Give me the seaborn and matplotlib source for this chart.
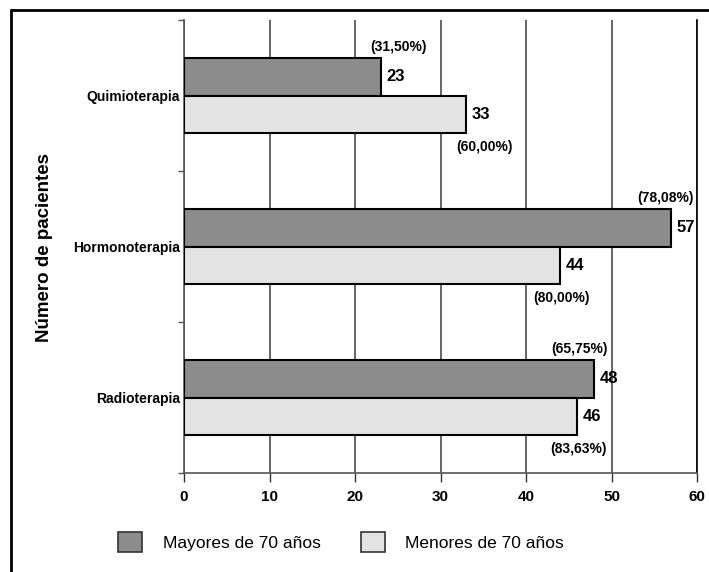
import matplotlib
matplotlib.use("Agg")
import matplotlib.pyplot as plt
import seaborn as sns
import pandas as pd
from matplotlib.lines import Line2D
from matplotlib.ticker import FixedLocator

# Datos
tratamientos = ["Quimioterapia", "Hormonoterapia", "Radioterapia"]
grupos = ["Mayores de 70 años", "Menores de 70 años"]
mayores = [23, 57, 48]
menores = [33, 44, 46]
pct_mayores = ["(31,50%)", "(78,08%)", "(65,75%)"]
pct_menores = ["(60,00%)", "(80,00%)", "(83,63%)"]
x_ticks = [0, 10, 20, 30, 40, 50, 60]

df = pd.DataFrame({
    "tratamiento": tratamientos * 2,
    "grupo": [grupos[0]] * len(tratamientos) + [grupos[1]] * len(tratamientos),
    "pacientes": mayores + menores,
})

sns.set_theme(style="white")
plt.rcParams["font.family"] = ["Liberation Sans", "DejaVu Sans"]
plt.rcParams["text.color"] = "black"
plt.rcParams["xtick.labelcolor"] = "black"
plt.rcParams["ytick.labelcolor"] = "black"

W, H = 709, 572
fig = plt.figure(figsize=(W / 100, H / 100), dpi=100)
ax = fig.add_axes([184 / W, 1 - 473 / H, (697 - 184) / W, (473 - 20) / H])

sns.barplot(
    data=df, y="tratamiento", x="pacientes", hue="grupo",
    order=tratamientos, hue_order=grupos,
    palette=["#8c8c8c", "#e3e3e3"], saturation=1,
    width=0.5, edgecolor="black", linewidth=1.5,
    orient="h", ax=ax, legend=True, zorder=3,
)

ax.set_xlim(0, 60)
ax.set_ylim(len(tratamientos) - 0.5, -0.5)
ax.set_xlabel("")
ax.set_ylabel("")

# Rejilla vertical y ejes
ax.set_axisbelow(True)
ax.xaxis.grid(True, color="#4a4a4a", linewidth=1.2)
ax.yaxis.grid(False)
ax.spines["top"].set_visible(False)
ax.spines["right"].set_visible(True)
ax.spines["right"].set_color("black")
ax.spines["right"].set_linewidth(1.2)
ax.spines["left"].set_color("#555555")
ax.spines["left"].set_linewidth(1.2)
ax.spines["bottom"].set_color("#555555")
ax.spines["bottom"].set_linewidth(1.2)

ax.set_xticks(x_ticks)
ax.set_xticklabels([str(t) for t in x_ticks], fontsize=11, fontweight="bold",
                   color="black")
ax.tick_params(axis="x", direction="out", length=6.5, width=1, color="#333333",
               pad=6, bottom=True)

ax.set_yticks(range(len(tratamientos)))
ax.set_yticklabels(tratamientos, fontsize=10, fontweight="bold", color="black")
ax.tick_params(axis="y", which="major", length=0, pad=3, left=True)
ax.yaxis.set_minor_locator(FixedLocator([i - 0.5 for i in range(len(tratamientos) + 1)]))
ax.tick_params(axis="y", which="minor", direction="out", length=4, width=1,
               color="#555555", left=True)

# Etiquetas de valores
pct_dx_may = [18, -6, -15]
pct_dx_men = [18, 1, 1]
for i, v in enumerate(mayores):
    ax.annotate(str(v), xy=(v, i - 0.125), xytext=(4, 0), textcoords="offset points",
                ha="left", va="center", fontsize=12, fontweight="bold",
                color="black", zorder=5)
    ax.annotate(pct_mayores[i], xy=(v, i - 0.25), xytext=(pct_dx_may[i] * 0.72, 8),
                textcoords="offset points", ha="center", va="center",
                fontsize=10, fontweight="bold", color="black", zorder=5)
for i, v in enumerate(menores):
    ax.annotate(str(v), xy=(v, i + 0.125), xytext=(4, 0), textcoords="offset points",
                ha="left", va="center", fontsize=12, fontweight="bold",
                color="black", zorder=5)
    ax.annotate(pct_menores[i], xy=(v, i + 0.25), xytext=(pct_dx_men[i] * 0.72, -10),
                textcoords="offset points", ha="center", va="center",
                fontsize=10, fontweight="bold", color="black", zorder=5)

fig.text(45 / W, 1 - 247 / H, "Número de pacientes", rotation=90,
         ha="center", va="center", fontsize=13.5, fontweight="bold", color="black")

# Leyenda
handles, labels = ax.get_legend_handles_labels()
if ax.get_legend() is not None:
    ax.get_legend().remove()
for h in handles:
    h.set_edgecolor("#333333")
    h.set_linewidth(1.2)
leg = fig.legend(handles, labels, loc="center left",
                 bbox_to_anchor=(118 / W, 1 - 542 / H), ncol=2, frameon=False,
                 fontsize=12.5, handlelength=1.38, handleheight=1.38,
                 handletextpad=1.2, columnspacing=2.3, borderpad=0, borderaxespad=0)
for t in leg.get_texts():
    t.set_color("black")

# Marco exterior
fig.add_artist(Line2D([11 / W, 1.0], [1 - 10 / H, 1 - 10 / H],
                      transform=fig.transFigure, color="black", linewidth=2))
fig.add_artist(Line2D([11 / W, 11 / W], [0.0, 1 - 10 / H],
                      transform=fig.transFigure, color="black", linewidth=2))

fig.savefig("out.png", dpi=100)
